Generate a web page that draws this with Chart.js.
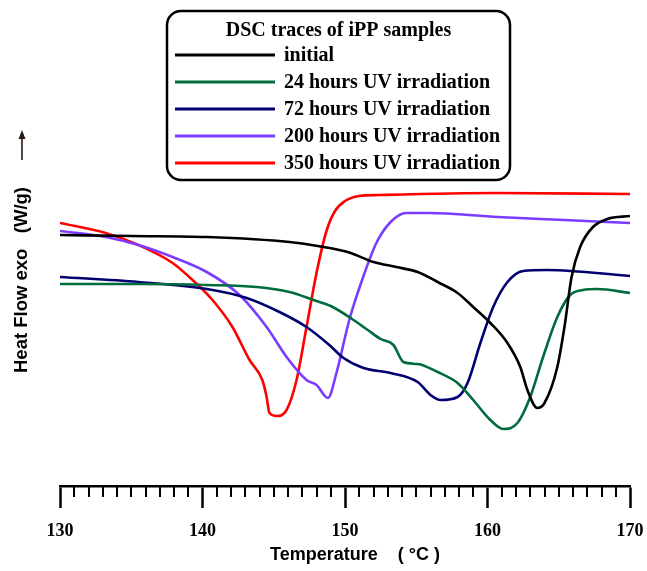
<!DOCTYPE html>
<html>
<head>
<meta charset="utf-8">
<title>DSC traces of iPP samples</title>
<script src="https://cdn.jsdelivr.net/npm/chart.js@4/dist/chart.umd.min.js"></script>
<style>
  html, body { margin: 0; padding: 0; background: #ffffff; }
  canvas { display: block; }
</style>
</head>
<body>
<canvas id="dsc" width="647" height="571"></canvas>
<script>
// Temperature (°C) and heat flow (W/g, offset traces) for each sample
const tempInitial = [130, 135, 140.3, 146.1, 148.5, 149.6, 150.4, 152.0, 153.6, 155.1, 156.5, 157.9, 159.0, 160.2, 161.4, 162.3, 162.8, 163.5, 164.0, 164.9, 165.4, 165.9, 166.5, 167.4, 168.4, 170];
const flowInitial = [2.51, 2.50, 2.49, 2.44, 2.39, 2.36, 2.33, 2.24, 2.19, 2.14, 2.04, 1.93, 1.79, 1.63, 1.43, 1.19, 0.96, 0.78, 0.83, 1.19, 1.59, 2.09, 2.39, 2.59, 2.67, 2.70];

const temp24h = [130, 135.5, 140.3, 143.8, 146.1, 147.8, 149.0, 150.4, 151.6, 152.5, 153.4, 154.1, 155.1, 156.5, 157.9, 159.0, 160.2, 161.1, 162.1, 163.0, 163.9, 164.9, 165.8, 166.7, 167.7, 170];
const flow24h = [2.02, 2.02, 2.01, 1.99, 1.94, 1.86, 1.80, 1.68, 1.56, 1.47, 1.41, 1.24, 1.22, 1.14, 1.03, 0.86, 0.66, 0.57, 0.63, 0.89, 1.29, 1.69, 1.91, 1.96, 1.97, 1.93];

const temp72h = [130, 135.5, 140.3, 143.1, 145.4, 147.3, 148.9, 149.9, 151.3, 153.2, 155.1, 156.0, 156.7, 157.9, 158.6, 159.5, 160.4, 161.4, 162.5, 164.2, 170];
const flow72h = [2.09, 2.04, 1.97, 1.88, 1.74, 1.59, 1.41, 1.28, 1.18, 1.13, 1.04, 0.91, 0.86, 0.89, 1.03, 1.43, 1.79, 2.04, 2.15, 2.16, 2.10];

const temp200h = [130, 133.2, 135.5, 137.9, 140.3, 142.6, 144.5, 145.9, 147.3, 148.0, 148.8, 149.4, 150.3, 151.2, 152.2, 153.2, 154.3, 155.9, 160.7, 165.4, 170];
const flow200h = [2.55, 2.49, 2.41, 2.29, 2.14, 1.91, 1.59, 1.29, 1.06, 1.01, 0.88, 1.13, 1.66, 2.06, 2.43, 2.64, 2.73, 2.73, 2.69, 2.66, 2.63];

const temp350h = [130, 133.2, 135.5, 137.9, 139.3, 140.7, 142.1, 143.3, 144.2, 144.5, 144.7, 145.2, 145.9, 146.6, 147.3, 148.0, 148.7, 149.3, 150.0, 151.0, 152.4, 160.6, 170];
const flow350h = [2.63, 2.53, 2.41, 2.23, 2.06, 1.86, 1.59, 1.26, 1.06, 0.89, 0.73, 0.70, 0.76, 1.06, 1.59, 2.13, 2.55, 2.75, 2.85, 2.90, 2.91, 2.93, 2.92];

const seriesLabels = ['initial', '24 hours UV irradiation', '72 hours UV irradiation', '200 hours UV irradiation', '350 hours UV irradiation'];
const seriesColors = ['#000000', '#006b3c', '#000070', '#7b3cff', '#ff0000'];
const legendTitle = 'DSC traces of iPP samples';
const xTickValues = [130, 140, 150, 160, 170];
const xTitle = '    Temperature    ( °C )';
const yTitle = 'Heat Flow exo   (W/g)';

const serif = '"Liberation Serif", "Times New Roman", serif';
const sans = '"Liberation Sans", Arial, sans-serif';

function pairs(xs, ys) { return xs.map((x, i) => ({ x: x, y: ys[i] })); }

const traces = [
  pairs(tempInitial, flowInitial),
  pairs(temp24h, flow24h),
  pairs(temp72h, flow72h),
  pairs(temp200h, flow200h),
  pairs(temp350h, flow350h)
];

// Minor ticks every 1 °C between the labelled ones
const minorTicks = {
  id: 'minorTicks',
  afterDraw(chart) {
    const ctx = chart.ctx, x = chart.scales.x, y0 = chart.chartArea.bottom;
    ctx.save();
    ctx.strokeStyle = '#000';
    ctx.lineWidth = 2;
    for (let v = Math.ceil(x.min); v <= x.max; v++) {
      if (xTickValues.includes(v)) continue;
      const px = Math.round(x.getPixelForValue(v));
      ctx.beginPath();
      ctx.moveTo(px, y0);
      ctx.lineTo(px, y0 + 11);
      ctx.stroke();
    }
    ctx.restore();
  }
};

// Boxed legend with a title and long line samples
const boxLegend = {
  id: 'boxLegend',
  afterDraw(chart) {
    const ctx = chart.ctx;
    const bx = 167, by = 11, bw = 343, bh = 169, r = 14;
    ctx.save();
    ctx.beginPath();
    ctx.roundRect(bx, by, bw, bh, r);
    ctx.fillStyle = '#fff';
    ctx.fill();
    ctx.lineWidth = 2.5;
    ctx.strokeStyle = '#000';
    ctx.stroke();
    ctx.fillStyle = '#000';
    ctx.textBaseline = 'middle';
    ctx.textAlign = 'center';
    ctx.font = 'bold 20px ' + serif;
    ctx.fillText(legendTitle, bx + bw / 2, 31);
    ctx.textAlign = 'left';
    chart.data.datasets.forEach((ds, i) => {
      const ly = 55 + i * 27;
      ctx.beginPath();
      ctx.moveTo(175, ly);
      ctx.lineTo(275, ly);
      ctx.lineWidth = 3;
      ctx.strokeStyle = ds.borderColor;
      ctx.stroke();
      ctx.fillStyle = '#000';
      ctx.fillText(ds.label, 284, ly + 1);
    });
    ctx.restore();
  }
};

// Rotated y title with the "exo up" arrow above it
const yLabel = {
  id: 'yLabel',
  afterDraw(chart) {
    const ctx = chart.ctx;
    ctx.save();
    ctx.translate(22, 280);
    ctx.rotate(-Math.PI / 2);
    ctx.font = 'bold 18.5px ' + sans;
    ctx.fillStyle = '#000';
    ctx.textAlign = 'center';
    ctx.textBaseline = 'middle';
    ctx.fillText(yTitle, 0, 0);
    ctx.restore();
    ctx.save();
    ctx.strokeStyle = '#2a1a10';
    ctx.fillStyle = '#2a1a10';
    ctx.lineWidth = 1.6;
    ctx.beginPath();
    ctx.moveTo(22, 160);
    ctx.lineTo(22, 136);
    ctx.stroke();
    ctx.beginPath();
    ctx.moveTo(22, 130);
    ctx.lineTo(18.5, 139);
    ctx.lineTo(25.5, 139);
    ctx.closePath();
    ctx.fill();
    ctx.restore();
  }
};

new Chart(document.getElementById('dsc'), {
  type: 'line',
  data: {
    datasets: traces.map((pts, i) => ({
      label: seriesLabels[i],
      data: pts,
      borderColor: seriesColors[i],
      backgroundColor: seriesColors[i],
      borderWidth: 2.6,
      pointRadius: 0,
      cubicInterpolationMode: 'monotone',
      fill: false
    }))
  },
  options: {
    responsive: false,
    devicePixelRatio: 1,
    animation: false,
    layout: { padding: { left: 60, right: 17, top: 186, bottom: 0 } },
    plugins: {
      legend: { display: false },
      tooltip: { enabled: false }
    },
    scales: {
      x: {
        type: 'linear',
        position: 'bottom',
        min: 130,
        max: 170,
        afterFit(scale) {
          scale.height = 85;
          scale.paddingLeft = 0;
          scale.paddingRight = 0;
        },
        afterBuildTicks(scale) { scale.ticks = xTickValues.map(v => ({ value: v })); },
        ticks: {
          color: '#000',
          padding: 13,
          font: { family: serif, size: 18, weight: 'bold' }
        },
        grid: {
          drawOnChartArea: false,
          drawTicks: true,
          tickLength: 22,
          tickWidth: 2.5,
          tickColor: '#000'
        },
        border: { display: true, color: '#000', width: 2.5 },
        title: {
          display: true,
          text: xTitle,
          color: '#000',
          font: { family: sans, size: 18, weight: 'bold' },
          padding: { top: 0, bottom: 5 }
        }
      },
      y: {
        display: false,
        min: 0,
        max: 3
      }
    }
  },
  plugins: [minorTicks, boxLegend, yLabel]
});
</script>
</body>
</html>
